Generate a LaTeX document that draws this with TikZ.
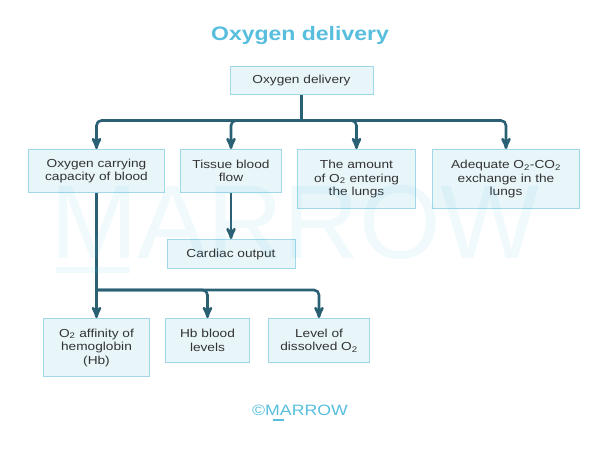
\documentclass[tikz,border=0pt]{standalone}
\usepackage{fontspec}
\setmainfont[FakeStretch=1.18]{Liberation Sans}
\newfontfamily\wmfont{Liberation Sans}
\usepackage{tikz}
\usetikzlibrary{arrows,positioning,calc}
\definecolor{titleblue}{HTML}{58BEDE}
\definecolor{boxfill}{HTML}{E8F6FA}
\definecolor{boxline}{HTML}{A0D8EA}
\definecolor{linkcol}{HTML}{2A6074}
\definecolor{boxtext}{HTML}{333333}

\begin{document}
\begin{tikzpicture}[>=stealth',x=1pt,y=1pt,
  box/.style={draw=boxline,fill=boxfill,line width=1pt,align=center,
    text=boxtext,inner sep=1pt,font=\fontsize{11.6}{13.5}\selectfont},
  link/.style={->,draw=linkcol,line width=2.6pt,rounded corners=5pt},
  trunk/.style={draw=linkcol,line width=2.6pt}]
    \useasboundingbox (0,0) rectangle (600,-450);
    \node[text=titleblue,font=\bfseries\fontsize{19.5}{22}\selectfont,anchor=base](title) at (300,-40){Oxygen delivery};
    \node[box,minimum width=143,minimum height=28](top) at (301.5,-80){Oxygen delivery};
    % second row
    \node[box,minimum width=136,minimum height=43,anchor=north west](cap) at (28,-149){Oxygen carrying\\capacity of blood};
    \node[box,minimum width=101,minimum height=43,right=15pt of cap.north east,anchor=north west](flow){Tissue blood\\flow};
    \node[box,minimum width=118,minimum height=59,right=15pt of flow.north east,anchor=north west](amount){The amount\\of O\textsubscript{2} entering\\the lungs};
    \node[box,minimum width=147,minimum height=59,right=16pt of amount.north east,anchor=north west](exch){Adequate O\textsubscript{2}-CO\textsubscript{2}\\exchange in the\\lungs};
    \node[box,minimum width=128,minimum height=29,below=46pt of flow](cardiac){Cardiac output};
    % third row
    \node[box,minimum width=106,minimum height=58,below=125pt of cap](affin){O\textsubscript{2} affinity of\\hemoglobin\\(Hb)};
    \node[box,minimum width=84,minimum height=44,right=15pt of affin.north east,anchor=north west](hb){Hb blood\\levels};
    \node[box,minimum width=101,minimum height=44,right=18pt of hb.north east,anchor=north west](diss){Level of\\dissolved O\textsubscript{2}};
    \coordinate (hub1) at ($(top.south)+(0,-26)$);
    \coordinate (hub2) at ($(cap.south)+(0,-97)$);
    \path[trunk] (top.south) -- (hub1);
    \path[link] (hub1) -| (cap.north);
    \path[link] (hub1) -| (flow.north);
    \path[link] (hub1) -| (amount.north);
    \path[link] (hub1) -| (exch.north);
    \path[link] (flow.south) -- (cardiac.north);
    \path[link] (cap.south) -- (affin.north);
    \path[link] (hub2) -| (hb.north);
    \path[link] (hub2) -| (diss.north);
    % watermark
    \node[text=titleblue,text opacity=0.09,font=\wmfont\fontsize{105}{105}\selectfont,anchor=base](mark) at (295,-258){MARROW};
    \fill[titleblue,opacity=0.09] (56,-267) rectangle (130,-273);
    \node[text=titleblue,font=\fontsize{15}{17}\selectfont,anchor=base](copy) at (300,-415){©MARROW};
    \fill[titleblue] (273,-419) rectangle (284,-421);
\end{tikzpicture}
\end{document}
